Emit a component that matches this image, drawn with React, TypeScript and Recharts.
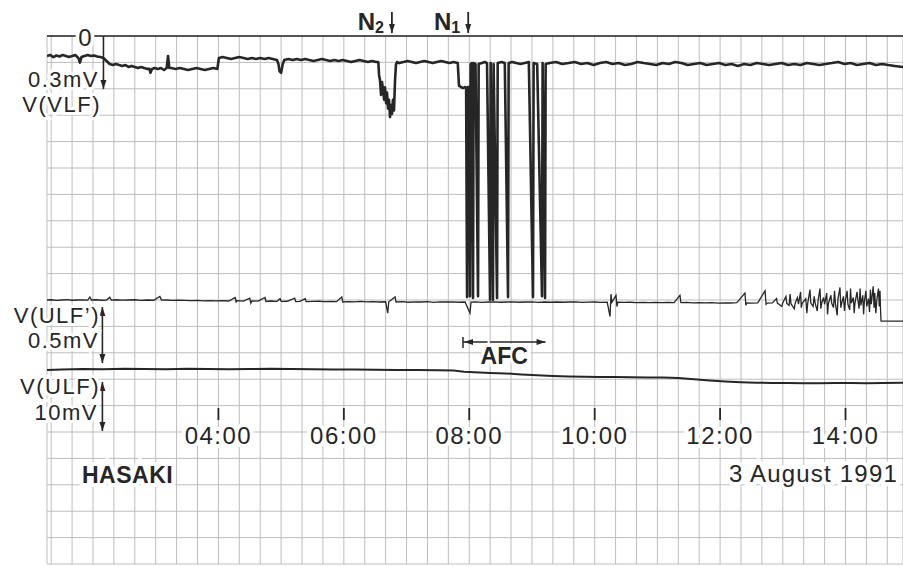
import React from 'react';
import { ComposedChart, Line, XAxis, YAxis, CartesianGrid, ReferenceLine } from 'recharts';

const FONT = '"Liberation Sans", Arial, Helvetica, sans-serif';
const INK = '#262626';

// time axis: minutes after 00:00, 3 August 1991
const timeDomain: [number, number] = [76, 895];
const gridMinutes = [80, 100, 120, 140, 160, 180, 200, 220, 240, 260, 280, 300, 320, 340, 360, 380, 400, 420, 440, 460, 480, 500, 520, 540, 560, 580, 600, 620, 640, 660, 680, 700, 720, 740, 760, 780, 800, 820, 840, 860, 880];
const hourTicks = [240, 360, 480, 600, 720, 840];
const hourLabels = ['04:00', '06:00', '08:00', '10:00', '12:00', '14:00'];
const paperDivisions = [0, 1, 2, 3, 4, 5, 6, 7, 8, 9, 10, 11, 12, 13, 14, 15, 16, 17, 18, 19, 20];

// V(VLF) in mV (downward deflection), [minute, mV]
const vlfTrace: [number, number][] = [
  [76, .113], [79, .107], [82, .119], [85, .110], [88, .116], [91, .107], [94, .113], [97, .119], [100, .113], [103, .107],
  [106, .124], [107.5, .150], [109, .119], [112, .113], [115, .107], [118, .113], [121, .110], [124, .116], [127, .119], [130, .124],
  [133, .141], [136, .158], [139, .164], [142, .158], [145, .164], [148, .169], [151, .164], [154, .175], [157, .169], [160, .175],
  [163, .181], [166, .175], [169, .181], [172, .186], [174, .186], [175, .208], [176.5, .186], [179, .181], [182, .186], [185, .181],
  [188, .192], [190.5, .181], [191.8, .113], [193, .181], [195, .181], [199, .186], [203, .181], [207, .186], [211, .192], [215, .186],
  [219, .181], [223, .186], [227, .192], [231, .186], [235, .181], [239, .186], [240.5, .124], [244, .119], [248, .124], [252, .130],
  [256, .124], [260, .119], [264, .124], [268, .130], [272, .124], [276, .130], [280, .124], [284, .130], [288, .124], [292, .130],
  [296, .136], [297.5, .160], [298.5, .200], [300, .208], [301.5, .160], [303, .136], [307, .130], [311, .136], [315, .130], [319, .136],
  [323, .130], [327, .136], [331, .141], [335, .136], [339, .130], [343, .136], [347, .141], [351, .136], [355, .141], [359, .136],
  [363, .141], [367, .147], [371, .141], [375, .136], [379, .141], [383, .147], [387, .141], [391, .147], [393, .147],
  [393.7, .22], [394.6, .25], [395.6, .333], [396.5, .26], [397.5, .30], [398.5, .36], [399.4, .29], [400.4, .38], [401.3, .32],
  [402.3, .41], [403.2, .36], [404.2, .458], [405.1, .39], [406.1, .44], [407, .36], [408, .42], [409, .25], [409.9, .16],
  [411, .147], [413, .153], [417, .147], [421, .141], [425, .147], [429, .153], [433, .147], [437, .141], [441, .147], [445, .153],
  [449, .147], [453, .141], [457, .147], [461, .153], [465, .147], [469, .153],
  [470.2, .282], [472, .288], [474, .294], [476, .288], [477, .292], [477.9, 1.475], [478.5, .29], [479.7, .288], [480.7, 1.47],
  [481.3, .16], [482.6, .153], [483.6, 1.48], [484.2, .153], [486, .158], [488.4, 1.47], [489, .158], [492, .153], [495, .147],
  [497, .153], [499.9, 1.49], [500.5, .153], [502.7, 1.49], [503.3, .158], [506.6, 1.48], [507.2, .153], [511, .147], [514, .153],
  [517.1, 1.475], [517.7, .153], [521, .147], [525, .153], [529, .158], [533, .153], [537, .147], [541, 1.475], [541.6, .153], [545, .158],
  [549.6, 1.47], [550.2, .153], [552.5, 1.48], [553.1, .158], [557, .153],
  [563, .147], [569, .158], [575, .153], [581, .147], [587, .158], [593, .153], [599, .164], [605, .153], [611, .147], [617, .158],
  [623, .153], [629, .164], [635, .158], [641, .147], [647, .153], [653, .158], [659, .164], [665, .153], [671, .158], [677, .147],
  [683, .153], [689, .164], [695, .158], [701, .153], [707, .164], [713, .158], [719, .153], [725, .164], [731, .158], [737, .169],
  [743, .158], [749, .164], [755, .153], [761, .158], [767, .164], [773, .158], [779, .153], [785, .164], [791, .158], [797, .164],
  [803, .153], [809, .158], [815, .164], [821, .158], [827, .153], [833, .147], [839, .158], [845, .153], [851, .164], [857, .158],
  [863, .153], [869, .164], [875, .158], [881, .164], [887, .169], [895, .175],
];

// V(ULF') in mV, [minute, mV]
const ulfPrimeTrace: [number, number][] = [
  [76, .018], [80, .02], [85, .015], [90, .018], [95, .022], [100, .016], [105, .018], [110, .02], [115, .017], [117, .045],
  [118.5, .018], [123, .02], [128, .016], [133, .018], [136, .043], [137.5, .017], [142, .02], [148, .016], [154, .018], [160, .02],
  [166, .015], [172, .018], [178, .016], [184, .05], [185.5, .017], [190, .018], [196, .014], [202, .017], [208, .015], [214, .012],
  [220, .014], [226, .011], [232, .013], [238, .01], [244, .012], [250, .009], [256, .04], [257, .0], [258, .012], [264, .008],
  [270, .035], [271, -.01], [272, .01], [278, .008], [284.6, .04], [285.5, .005], [290, .009], [296, .006], [299, .03], [300, .005],
  [306, .007], [313, .035], [314, .004], [318, .006], [323, .03], [324, .004], [330, .005], [336, .007], [342, .003], [348, .005],
  [353, .003], [358, .045], [359, .0], [364, .004], [370, .002], [376, .005], [382, .001], [388, .003], [394, .0], [400, .002],
  [402, -.1], [403, .002], [409, .045], [410, .0], [416, .003], [422, -.002], [428, .002], [434, .0], [440, .003], [446, -.003],
  [452, .001], [458, .0], [464, .002], [470, -.002], [476, .0], [480.7, -.1], [481.7, .0], [486, .002], [492, -.003], [498, .0],
  [504, .002], [510, -.002], [516, .0], [522, .002], [528, -.002], [534, .0], [540, .002], [546, -.003], [552, .0], [558, -.002],
  [564, .0], [570, -.002], [576, .0], [582, .002], [588, -.003], [594, -.001], [600, .0], [606, -.003], [612, -.001], [614.7, -.13],
  [615.6, .07], [616.5, -.002], [620.4, .06], [621.3, -.04], [622.2, -.002], [628, -.004], [634, -.002], [640, -.005], [646, -.003],
  [652, -.006], [658, -.004], [664, -.006], [670, -.003], [676, -.006], [681.6, .06], [682.5, -.005], [688, -.004], [694, -.007],
  [700, -.005], [706, -.008], [712, -.006], [718, -.01], [724, -.007], [730, -.009], [736, -.006], [743.8, .08], [744.7, -.03],
  [745.6, -.008], [750, -.01], [756, -.007], [763, .1], [764, -.02], [765, -.01],
  [770, -.008], [774, .03], [774.8, -.01], [779, -.04], [779.8, -.01], [783, .05], [783.8, -.012], [786, -.03], [787, .07],
  [787.8, -.015], [791, -.06], [791.8, -.01], [794, .04], [795, -.02], [797, .09], [797.7, -.05], [798.5, -.012], [802, .03],
  [803, -.1], [803.8, -.015], [806, .11], [806.8, -.01], [809, -.04], [810, .05], [811, -.012], [813, -.08], [813.8, .02],
  [815.6, .12], [816.4, -.06], [817.2, -.01], [819, .04], [820, -.02], [822, .08], [822.8, -.11], [823.6, -.015], [826, .06],
  [826.8, -.012], [828.5, -.05], [829.5, .1], [830.3, -.01], [832, -.12], [832.8, .03], [834.7, .13], [835.5, -.05], [836.3, -.012],
  [838, .05], [839, -.08], [840, .02], [841.5, .1], [842.3, -.02], [844, -.07], [844.8, .12], [845.6, -.01], [847.5, .04],
  [848.3, -.1], [849, -.015], [851, .09], [851.8, .02], [853, -.06], [853.9, .12], [854.7, -.03], [856.5, .06], [857.3, -.11],
  [858, .0], [859.5, .1], [860.3, -.04], [862, .03], [863, -.09], [863.8, .11], [864.6, -.02], [866.5, .14], [867.3, -.05],
  [868, .08], [869, -.1], [870, .02], [871.5, .12], [872.3, -.04], [873, .1], [873.5, -.07], [874, -.17], [895, -.17],
];

// V(ULF) in mV, [minute, mV]
const ulfTrace: [number, number][] = [
  [76, -0.2], [90, -0.1], [110, 0.0], [130, -0.05], [150, 0.05], [170, 0.0], [190, -0.05], [210, 0.05], [230, 0.0], [250, -0.05],
  [270, 0.0], [290, 0.05], [310, 0.0], [330, -0.05], [350, -0.1], [370, -0.1], [390, -0.15], [410, -0.2], [430, -0.2], [450, -0.25],
  [465, -0.3], [475, -0.55], [485, -0.65], [500, -0.8], [515, -0.9], [530, -1.1], [545, -1.3], [560, -1.45], [575, -1.55], [590, -1.6],
  [605, -1.65], [620, -1.65], [635, -1.7], [650, -1.72], [665, -1.75], [680, -1.85], [695, -2.1], [710, -2.35], [725, -2.55], [740, -2.7],
  [755, -2.8], [770, -2.86], [785, -2.86], [800, -2.9], [815, -2.9], [830, -2.85], [845, -2.86], [860, -2.9], [875, -2.85], [895, -2.8],
];

// calibration arrows
const scaleBars: { axis: string; t: number; from: number; to: number; both: boolean }[] = [
  { axis: 'vlf', t: 130, from: 0, to: 0.3, both: false },
  { axis: 'ulfp', t: 129, from: -0.045, to: -0.545, both: true },
  { axis: 'ulf', t: 129, from: -2.65, to: -12.65, both: true },
];

const events = [
  { name: 'N', sub: '2', t: 406 },
  { name: 'N', sub: '1', t: 479 },
];

const afcStart = 474;
const afcEnd = 553;
const afcLevel = 11.59;

const tickTop = 14.09;
const tickBottom = 14.55;

const sideLabels = [
  { text: '0.3mV', x: 99, y: 87 },
  { text: 'V(VLF)', x: 101, y: 112 },
  { text: 'V(ULF\u2019)', x: 100, y: 323 },
  { text: '0.5mV', x: 99, y: 348 },
  { text: 'V(ULF)', x: 100, y: 394 },
  { text: '10mV', x: 98, y: 420 },
];

const toPts = (arr: [number, number][]) => arr.map(([t, v]) => ({ t, v }));
const vlfData = toPts(vlfTrace);
const ulfPrimeData = toPts(ulfPrimeTrace);
const ulfData = toPts(ulfTrace);

function head(xt: number, yt: number, dx: number, dy: number) {
  const L = 9, W = 3;
  const bx = xt - dx * L, by = yt - dy * L;
  return `${xt},${yt} ${bx - dy * W},${by + dx * W} ${bx + dy * W},${by - dx * W}`;
}

const makeArrow = (both: boolean) => (p: any) => {
  const { x1, y1, x2, y2 } = p;
  const len = Math.hypot(x2 - x1, y2 - y1) || 1;
  const dx = (x2 - x1) / len, dy = (y2 - y1) / len;
  return (
    <g>
      <line x1={x1} y1={y1} x2={x2} y2={y2} stroke={INK} strokeWidth={1.6} />
      <polygon points={head(x2, y2, dx, dy)} fill={INK} />
      {both && <polygon points={head(x1, y1, -dx, -dy)} fill={INK} />}
    </g>
  );
};

const makeHourTick = (label: string) => (p: any) => {
  const { x1, y1, x2, y2 } = p;
  const yb = Math.max(y1, y2);
  return (
    <g>
      <line x1={x1} y1={y1} x2={x2} y2={y2} stroke={INK} strokeWidth={1.8} />
      <text x={x1} y={yb + 24} textAnchor="middle" fontFamily={FONT} fontSize={24} letterSpacing={1.5}
        fill={INK} stroke="#fff" strokeWidth={8} paintOrder="stroke">{label}</text>
    </g>
  );
};

const makeEvent = (name: string, sub: string) => (p: any) => {
  const { x1, y1, y2 } = p;
  const top = Math.min(y1, y2);
  const ys = top - 24, ye = top - 3;
  return (
    <g>
      <line x1={x1} y1={ys} x2={x1} y2={ye} stroke={INK} strokeWidth={1.8} />
      <polygon points={head(x1, ye, 0, 1)} fill={INK} />
      <text x={x1 - 8} y={top - 6} textAnchor="end" fontFamily={FONT} fontWeight="bold" fontSize={24} fill={INK}>
        {name}<tspan fontSize={16} dy={3}>{sub}</tspan>
      </text>
    </g>
  );
};

const afcShape = (p: any) => {
  const { x1, y1, x2, y2 } = p;
  return (
    <g>
      <line x1={x1} y1={y1} x2={x2} y2={y2} stroke={INK} strokeWidth={1.3} />
      <line x1={x1} y1={y1 - 5} x2={x1} y2={y1 + 6} stroke={INK} strokeWidth={1.5} />
      <polygon points={head(x1 + 1, y1, -1, 0)} fill={INK} />
      <polygon points={head(x2, y2, 1, 0)} fill={INK} />
      <text x={(x1 + x2) / 2} y={y1 + 22} textAnchor="middle" fontFamily={FONT} fontWeight="bold" fontSize={23}
        fill={INK} stroke="#fff" strokeWidth={6} paintOrder="stroke">AFC</text>
    </g>
  );
};

export default function App() {
  return (
    <div style={{ position: 'absolute', left: 0, top: 0, width: 903, height: 567, background: '#fff', overflow: 'hidden' }}>
      <ComposedChart width={903} height={567} margin={{ top: 36, right: 0, bottom: 3, left: 47 }}>
        <XAxis xAxisId="t" type="number" dataKey="t" domain={timeDomain} ticks={gridMinutes} interval={0} hide allowDataOverflow />
        <YAxis yAxisId="paper" type="number" domain={[0, 20]} ticks={paperDivisions} interval={0} reversed hide allowDataOverflow />
        <YAxis yAxisId="vlf" type="number" domain={[0, 2.983]} reversed hide allowDataOverflow />
        <YAxis yAxisId="ulfp" type="number" domain={[-2.339, 2.375]} hide allowDataOverflow />
        <YAxis yAxisId="ulf" type="number" domain={[-39.8, 67.96]} hide allowDataOverflow />
        <CartesianGrid xAxisId="t" yAxisId="paper" stroke="#bdbdbd" strokeWidth={1} />

        <ReferenceLine xAxisId="t" yAxisId="vlf" y={0} stroke={INK} strokeWidth={1.6} ifOverflow="visible" />

        <Line xAxisId="t" yAxisId="ulf" data={ulfData} dataKey="v" type="linear" dot={false} stroke={INK}
          strokeWidth={2} isAnimationActive={false} />
        <Line xAxisId="t" yAxisId="ulfp" data={ulfPrimeData} dataKey="v" type="linear" dot={false} stroke={INK}
          strokeWidth={1.3} isAnimationActive={false} />
        <Line xAxisId="t" yAxisId="vlf" data={vlfData} dataKey="v" type="linear" dot={false} stroke={INK}
          strokeWidth={2.6} strokeLinejoin="round" isAnimationActive={false} />

        {scaleBars.map((b, i) => (
          <ReferenceLine key={'sb' + i} xAxisId="t" yAxisId={b.axis} ifOverflow="visible"
            segment={[{ x: b.t, y: b.from }, { x: b.t, y: b.to }]} shape={makeArrow(b.both)} />
        ))}
        {hourTicks.map((h, i) => (
          <ReferenceLine key={'ht' + i} xAxisId="t" yAxisId="paper" ifOverflow="visible"
            segment={[{ x: h, y: tickTop }, { x: h, y: tickBottom }]} shape={makeHourTick(hourLabels[i])} />
        ))}
        {events.map((e, i) => (
          <ReferenceLine key={'ev' + i} xAxisId="t" yAxisId="paper" ifOverflow="visible" x={e.t}
            shape={makeEvent(e.name, e.sub)} />
        ))}
        <ReferenceLine xAxisId="t" yAxisId="paper" ifOverflow="visible"
          segment={[{ x: afcStart, y: afcLevel }, { x: afcEnd, y: afcLevel }]} shape={afcShape} />
      </ComposedChart>

      <svg width={903} height={567} style={{ position: 'absolute', left: 0, top: 0, pointerEvents: 'none' }}>
        <text x={85} y={46} textAnchor="middle" fontFamily={FONT} fontSize={24} fill={INK}
          stroke="#fff" strokeWidth={7} paintOrder="stroke">0</text>
        {sideLabels.map((l, i) => (
          <text key={i} x={l.x} y={l.y} textAnchor="end" fontFamily={FONT} fontSize={22} letterSpacing={1.5}
            fill={INK} stroke="#fff" strokeWidth={6} paintOrder="stroke">{l.text}</text>
        ))}
        <text x={82} y={483} fontFamily={FONT} fontWeight="bold" fontSize={23} letterSpacing={0.5}
          fill={INK} stroke="#fff" strokeWidth={8} paintOrder="stroke">HASAKI</text>
        <text x={898} y={482} textAnchor="end" fontFamily={FONT} fontSize={24} letterSpacing={1.2}
          fill={INK} stroke="#fff" strokeWidth={8} paintOrder="stroke">3 August 1991</text>
      </svg>
    </div>
  );
}
